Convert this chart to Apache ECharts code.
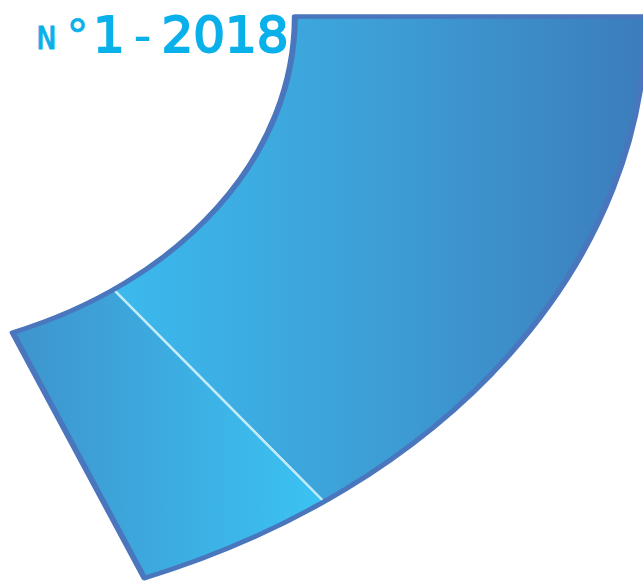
<!DOCTYPE html>
<html>
<head>
<meta charset="utf-8">
<script src="https://cdn.jsdelivr.net/npm/echarts@6/dist/echarts.min.js"></script>
<style>
html,body{margin:0;padding:0;background:#ffffff;overflow:hidden}
#wrap{position:relative;width:643px;height:586px;overflow:hidden}
#pie{position:absolute;left:0;top:0;width:486px;height:586px;transform:scaleX(1.325);transform-origin:0 0}
#title{position:absolute;left:0;top:0;width:643px;height:90px}
</style>
</head>
<body>
<div id="wrap"><div id="pie"></div><div id="title"></div></div>
<script>
// ---- data ----
const categories = ['Part A', 'Part B'];
const shares = [78.3, 21.7];
const titleParts = ['N', '°', '1', '-', '2018'];

// ---- styles ----
const fills = [
  {type:'linear', x:0, y:0, x2:1, y2:0, colorStops:[
    {offset:0, color:'#3bbaee'}, {offset:0.5, color:'#3d9ed5'}, {offset:1, color:'#3c7dbc'}]},
  {type:'linear', x:0, y:0, x2:1, y2:0, colorStops:[
    {offset:0, color:'#3e94cd'}, {offset:1, color:'#3bc3f3'}]}
];
const center = [-118.5, 16.5];
const radius = [341, 606];
const startAngle = 0, endAngle = -67.95;
const total = shares.reduce((a, b) => a + b, 0);

const pie = echarts.init(document.getElementById('pie'), null, {renderer:'svg'});
pie.setOption({
  animation: false,
  series: [
    {
      type: 'pie', center, radius, startAngle, endAngle, clockwise: true,
      silent: true, label: {show:false}, labelLine: {show:false}, z: 1,
      data: categories.map((c, i) => ({
        name: c, value: shares[i],
        itemStyle: {color: fills[i], borderColor: '#c3ebf9', borderWidth: 2}
      }))
    },
    {
      type: 'pie', center, radius, startAngle, endAngle, clockwise: true,
      silent: true, label: {show:false}, labelLine: {show:false}, z: 2,
      data: [{name: 'all', value: total,
        itemStyle: {color: 'rgba(0,0,0,0)', borderColor: '#4a76bd', borderWidth: 4.5, borderJoin: 'round'}}]
    }
  ]
});

const title = echarts.init(document.getElementById('title'), null, {renderer:'svg'});
const col = '#0ab0ea';
const mono = '"DejaVu Sans Mono", "DejaVu Sans", monospace';
const sans = '"DejaVu Sans", sans-serif';
const titleX = [46.3, 77.5, 109, 142.5, 225];
const titleY = [37.6, 35.1, 35.2, 35.1, 35.2];
const titleFont = [
  'normal 32px ' + mono,
  'normal 44px ' + mono,
  'normal 50px ' + sans,
  'normal 52.5px ' + mono,
  'normal 50px ' + sans
];
const titleStroke = [0.9, 0.6, 2, 0, 2];
title.setOption({
  animation: false,
  graphic: titleParts.map((t, i) => ({
    type: 'text', x: titleX[i], y: titleY[i], silent: true,
    style: {text: t, fill: col, font: titleFont[i], align: 'center', verticalAlign: 'middle',
      stroke: titleStroke[i] ? col : null, lineWidth: titleStroke[i]}
  }))
});
</script>
</body>
</html>
